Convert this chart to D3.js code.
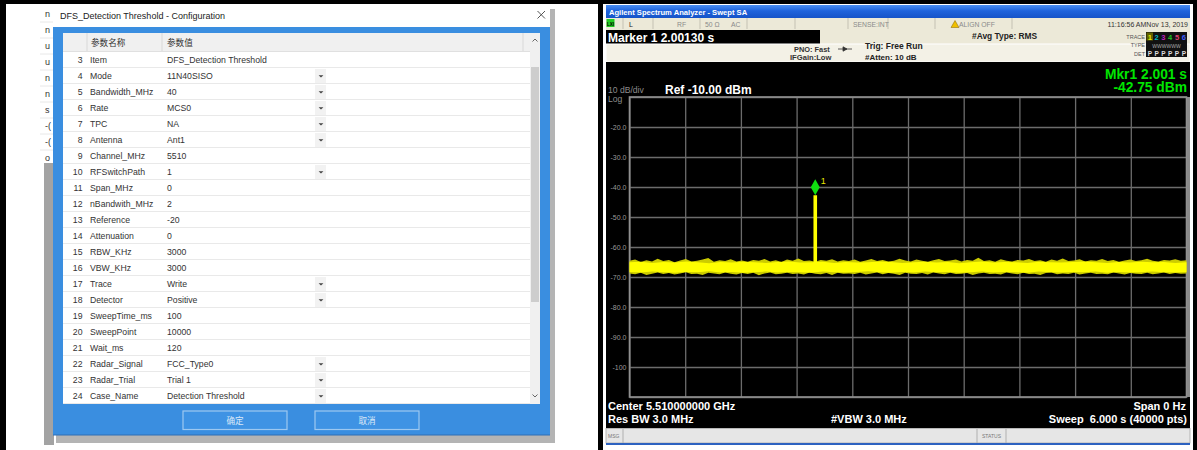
<!DOCTYPE html>
<html><head><meta charset="utf-8">
<script src="https://cdn.jsdelivr.net/npm/d3@7"></script>
<style>
html,body{margin:0;padding:0;background:#fff;}
svg{display:block;}
</style></head><body>
<svg id="c" width="1197" height="450"></svg>
<script>
// ================= DATA =================
const dialogTitle = "DFS_Detection Threshold - Configuration";
const headerLabels = ["参数名称", "参数值"];
const rowNumbers = [3,4,5,6,7,8,9,10,11,12,13,14,15,16,17,18,19,20,21,22,23,24];
const paramNames = ["Item","Mode","Bandwidth_MHz","Rate","TPC","Antenna","Channel_MHz","RFSwitchPath",
  "Span_MHz","nBandwith_MHz","Reference","Attenuation","RBW_KHz","VBW_KHz","Trace","Detector",
  "SweepTime_ms","SweepPoint","Wait_ms","Radar_Signal","Radar_Trial","Case_Name"];
const paramValues = ["DFS_Detection Threshold","11N40SISO","40","MCS0","NA","Ant1","5510","1",
  "0","2","-20","0","3000","3000","Write","Positive","100","10000","120","FCC_Type0","Trial 1","Detection Threshold"];
const hasDropdown = [false,true,true,true,true,true,false,true,false,false,false,false,false,false,true,true,false,false,false,true,true,true];
const buttonLabels = ["确定", "取消"];
const bgWindowLetters = ["n","n","u","u","n","n","s","-(","-(","o"];

// spectrum analyzer
const yTicks = [-10,-20,-30,-40,-50,-60,-70,-80,-90,-100,-110];
const yTickLabels = ["","-20.0","-30.0","-40.0","-50.0","-60.0","-70.0","-80.0","-90.0","-100",""];
const xTicks = [0,0.6,1.2,1.8,2.4,3.0,3.6,4.2,4.8,5.4,6.0];
const markerTime = 2.001;     // s
const markerLevel = -42.75;   // dBm
// noise floor envelope (dBm) read across the 6 s sweep
const noisePeakHi = [-64.6,-64.2,-65.0,-64.4,-64.8,-63.9,-64.7,-64.3,-65.1,-64.5,
 -64.0,-64.8,-64.6,-64.2,-63.7,-64.9,-64.4,-64.7,-64.1,-64.8,
 -64.5,-64.9,-64.3,-64.6,-64.0,-64.8,-64.4,-65.0,-64.2,-64.6,
 -63.8,-64.7,-64.5,-64.9,-64.3,-64.6,-64.1,-64.8,-64.4,-64.7,
 -64.2,-64.9,-64.5,-64.0,-64.7,-64.3,-64.8,-64.6,-63.9,-64.5,
 -64.8,-64.2,-64.6,-64.9,-64.4,-64.0,-64.7,-64.5,-64.2,-64.8,
 -64.3,-64.6,-63.6,-64.7,-64.4,-64.9,-64.1,-64.6,-64.8,-64.3,
 -64.5,-64.0,-64.7,-64.4,-64.9,-64.2,-64.6,-63.8,-64.7,-64.5,
 -64.1,-64.8,-64.4,-64.6,-64.0,-64.7,-64.3,-64.9,-64.5,-64.2,
 -64.7,-64.4,-63.9,-64.6,-64.8,-64.3,-64.5,-64.1,-64.6,-64.4];
const noisePeakLo = [-68.8,-69.1,-68.6,-69.3,-68.9,-68.5,-69.0,-68.7,-69.2,-68.8,
 -68.4,-69.0,-68.9,-69.3,-68.6,-68.8,-69.1,-68.5,-68.9,-69.2,
 -68.7,-69.0,-68.6,-69.4,-68.8,-68.5,-69.1,-68.9,-68.6,-69.0,
 -68.8,-69.2,-68.5,-68.9,-69.1,-68.7,-69.3,-68.6,-68.9,-68.8,
 -69.0,-68.6,-69.2,-68.8,-68.5,-69.1,-68.7,-68.9,-69.3,-68.6,
 -68.9,-69.0,-68.7,-69.2,-68.5,-68.8,-69.1,-68.6,-69.0,-68.9,
 -68.7,-69.3,-68.8,-68.6,-69.0,-68.9,-69.2,-68.5,-68.8,-69.1,
 -68.6,-69.0,-68.9,-69.3,-68.7,-68.5,-69.1,-68.8,-69.0,-68.6,
 -69.2,-68.8,-68.6,-69.0,-68.9,-69.1,-68.5,-68.8,-69.2,-68.7,
 -68.9,-69.0,-68.6,-69.1,-68.8,-68.5,-69.0,-68.7,-68.9,-68.8];
const noiseHi = [-65.1,-64.9,-65.3,-65.0,-65.2,-64.8,-65.1,-65.4,-65.0,-65.2,
 -64.9,-65.1,-65.3,-65.0,-64.8,-65.2,-65.1,-64.9,-65.3,-65.0,
 -65.2,-65.1,-64.8,-65.0,-65.3,-65.1,-64.9,-65.2,-65.0,-65.4,
 -65.1,-64.8,-65.2,-65.0,-65.1,-65.3,-64.9,-65.1,-65.2,-65.0,
 -64.8,-65.1,-65.3,-65.0,-65.2,-64.9,-65.1,-65.0,-65.3,-65.1];
const noiseLo = [-68.3,-68.5,-68.2,-68.4,-68.6,-68.3,-68.4,-68.1,-68.5,-68.3,
 -68.6,-68.4,-68.2,-68.5,-68.3,-68.4,-68.6,-68.2,-68.4,-68.5,
 -68.3,-68.1,-68.4,-68.6,-68.3,-68.5,-68.2,-68.4,-68.3,-68.6,
 -68.4,-68.2,-68.5,-68.3,-68.4,-68.6,-68.2,-68.4,-68.5,-68.3,
 -68.4,-68.2,-68.6,-68.3,-68.5,-68.4,-68.2,-68.4,-68.5,-68.3];

// ================= DRAW =================
const svg = d3.select("#c");
const SANS = "'Liberation Sans', Arial, 'Noto Sans CJK SC', sans-serif";
function txt(g, x, y, s, o = {}) {
  return g.append("text").attr("x", x).attr("y", y).text(s)
    .attr("font-family", o.ff || SANS).attr("font-size", o.fs || 9)
    .attr("font-weight", o.fw || "normal").attr("fill", o.fill || "#000")
    .attr("text-anchor", o.anchor || "start");
}
function rect(g, x, y, w, h, fill, o = {}) {
  const r = g.append("rect").attr("x", x).attr("y", y).attr("width", w).attr("height", h).attr("fill", fill);
  if (o.stroke) r.attr("stroke", o.stroke).attr("stroke-width", o.sw || 1);
  return r;
}

const defs = svg.append("defs");
defs.append("clipPath").attr("id", "bgclip").append("rect").attr("x", 40).attr("y", 5).attr("width", 13).attr("height", 160);
const tg = defs.append("linearGradient").attr("id", "xpblue").attr("x1", 0).attr("y1", 0).attr("x2", 0).attr("y2", 1);
tg.append("stop").attr("offset", "0%").attr("stop-color", "#4a8ef2");
tg.append("stop").attr("offset", "45%").attr("stop-color", "#1f63dc");
tg.append("stop").attr("offset", "100%").attr("stop-color", "#1553c8");

// ---------- LEFT: configuration dialog ----------
const L = svg.append("g");
const bgw = L.append("g").attr("clip-path", "url(#bgclip)");
bgWindowLetters.forEach((s, i) => {
  txt(bgw, 45, 17 + i * 16, s, { fs: 9, fill: "#333" });
  bgw.append("line").attr("x1", 40).attr("x2", 53).attr("y1", 22 + i * 16).attr("y2", 22 + i * 16).attr("stroke", "#e8e8e8");
});
rect(L, 44, 163, 10, 282, "#a3a3a3");
rect(L, 56, 9, 499, 434, "#b4b4b4");
rect(L, 53, 5, 497, 22, "#ffffff");
txt(L, 60, 19, dialogTitle, { fs: 9, fill: "#222" });
L.append("path").attr("d", "M537.5,11 L545,18.5 M545,11 L537.5,18.5").attr("stroke", "#555").attr("stroke-width", 1);
rect(L, 53, 27, 497, 408, "#3a8ee0");
L.append("line").attr("x1", 53).attr("x2", 550).attr("y1", 435).attr("y2", 435).attr("stroke", "#2f6fb5");
const tblX0 = 63, tblX1 = 530, rowsTop = 52;
const rowY = d3.scaleBand().domain(rowNumbers).range([rowsTop, rowsTop + rowNumbers.length * 16]);
rect(L, tblX0, 33, 477, 371, "#ffffff");
rect(L, tblX0, 33, tblX1 - tblX0, 19, "#f0f0f0");
[87, 162, 523].forEach(cx => L.append("line").attr("x1", cx).attr("x2", cx).attr("y1", 33).attr("y2", 51).attr("stroke", "#d8d8d8"));
L.append("line").attr("x1", tblX0).attr("x2", tblX1).attr("y1", 51.5).attr("y2", 51.5).attr("stroke", "#e0e0e0");
txt(L, 91, 46, headerLabels[0], { fs: 8.6, fill: "#333" });
txt(L, 167, 46, headerLabels[1], { fs: 8.6, fill: "#333" });

const rows = L.selectAll("g.row").data(rowNumbers).join("g").attr("class", "row")
  .attr("transform", d => `translate(0,${rowY(d)})`);
rows.each(function (d, i) {
  const g = d3.select(this);
  const h = rowY.bandwidth();
  if (hasDropdown[i]) {
    rect(g, 315, 1, 11, h - 2, "#f2f2f2");
    g.append("path").attr("d", `M318.6,${h / 2 - 0.8} L323.4,${h / 2 - 0.8} L321,${h / 2 + 1.6} Z`).attr("fill", "#444");
  }
  g.append("line").attr("x1", tblX0).attr("x2", tblX1).attr("y1", h - 0.5).attr("y2", h - 0.5).attr("stroke", "#e9e9e9");
  txt(g, 82.5, h / 2 + 3.2, d, { fs: 8.7, fill: "#333", anchor: "end" });
  txt(g, 90, h / 2 + 3.2, paramNames[i], { fs: 8.7, fill: "#333" });
  txt(g, 167, h / 2 + 3.2, paramValues[i], { fs: 8.7, fill: "#333" });
});
rect(L, 530, 33, 10, 371, "#f0f0f0");
rect(L, 531, 67, 8, 235, "#cdcdcd");
L.append("path").attr("d", "M532.5,41.5 L535,39 L537.5,41.5").attr("fill", "none").attr("stroke", "#666");
L.append("path").attr("d", "M532.5,394.5 L535,397 L537.5,394.5").attr("fill", "none").attr("stroke", "#666");
[[183, buttonLabels[0]], [315, buttonLabels[1]]].forEach(([bx, lab]) => {
  rect(L, bx, 411, 104, 18.5, "#3f93e4", { stroke: "#9dc8f1", sw: 1.2 });
  txt(L, bx + 52, 423.5, lab, { fs: 8.6, fill: "#dbe9f8", anchor: "middle" });
});

// ---------- FRAME lines ----------
rect(svg, 0, 0, 1197, 4, "#000");
rect(svg, 0, 0, 6, 450, "#000");
rect(svg, 598, 0, 5, 450, "#000");
rect(svg, 1193, 0, 4, 450, "#000");

// ---------- RIGHT: spectrum analyzer ----------
const R = svg.append("g");
const AX0 = 606, AX1 = 1190;
rect(R, AX0, 5, AX1 - AX0, 13, "url(#xpblue)");
txt(R, 609, 14.5, "Agilent Spectrum Analyzer - Swept SA", { fs: 7.6, fw: "bold", fill: "#fff" });
rect(R, AX0, 18, AX1 - AX0, 11, "#ece9d8");
[623, 653, 700, 747, 795, 848, 888, 935, 1012].forEach(sx =>
  R.append("line").attr("x1", sx).attr("x2", sx).attr("y1", 18).attr("y2", 29).attr("stroke", "#c4c1b3"));
rect(R, 606.5, 19, 8, 8, "#22cc22");
txt(R, 610.5, 25.5, "LXI", { fs: 4.5, fw: "bold", fill: "#000", anchor: "middle" });
const stc = { fs: 6.8, fill: "#8a8a8a" };
txt(R, 629, 26.5, "L", { fs: 7, fill: "#222" });
txt(R, 677, 26.5, "RF", stc);
txt(R, 705, 26.5, "50 Ω", stc);
txt(R, 731, 26.5, "AC", stc);
txt(R, 853, 26.5, "SENSE:INT", stc);
R.append("path").attr("d", "M955,20.5 L959,27.5 L951,27.5 Z").attr("fill", "#f0c000").attr("stroke", "#806000").attr("stroke-width", 0.5);
txt(R, 959, 26.5, "ALIGN OFF", stc);
txt(R, 1188, 26.5, "11:16:56 AMNov 13, 2019", { fs: 7, fill: "#333", anchor: "end" });
rect(R, AX0, 29, AX1 - AX0, 15, "#ece9d8");
rect(R, AX0, 30, 214, 14, "#000");
txt(R, 608, 42, "Marker 1 2.00130 s", { fs: 12, fw: "bold", fill: "#fff" });
rect(R, AX0, 44, AX1 - AX0, 18, "#f3f1e6", { stroke: "#ffffff", sw: 1 });
txt(R, 972, 39, "#Avg Type: RMS", { fs: 8.4, fw: "bold", fill: "#222" });
txt(R, 794, 52, "PNO: Fast", { fs: 7.4, fw: "bold", fill: "#333" });
txt(R, 790, 60, "IFGain:Low", { fs: 7.6, fw: "bold", fill: "#333" });
R.append("path").attr("d", "M838,49 L852,49 M843,46.8 L847,49 L843,51.2 Z").attr("stroke", "#333").attr("fill", "#333").attr("stroke-width", 0.8);
txt(R, 865, 49, "Trig: Free Run", { fs: 8.5, fw: "bold", fill: "#222" });
txt(R, 865, 59.5, "#Atten: 10 dB", { fs: 8, fw: "bold", fill: "#222" });
const trG = R.append("g");
txt(trG, 1145, 38.5, "TRACE", { fs: 5.5, fill: "#555", anchor: "end" });
txt(trG, 1145, 47, "TYPE", { fs: 5.5, fill: "#555", anchor: "end" });
txt(trG, 1145, 55.5, "DET", { fs: 5.5, fill: "#555", anchor: "end" });
rect(trG, 1146, 32, 41, 25, "#111");
const traceColors = ["#e8e800", "#00b8c8", "#c020c0", "#20c020", "#e04070", "#4060ff"];
rect(trG, 1146.5, 32.5, 6.5, 8, "#606000");
traceColors.forEach((c, i) => {
  txt(trG, 1149.8 + i * 6.8, 39.5, String(i + 1), { fs: 7.5, fw: "bold", fill: c, anchor: "middle" });
  txt(trG, 1149.8 + i * 6.8, 55.5, "P", { fs: 6.5, fw: "bold", fill: "#ddd", anchor: "middle" });
});
txt(trG, 1166.5, 47.5, "WWWWWW", { fs: 5, fill: "#aaa", anchor: "middle" });

rect(R, AX0, 62, AX1 - AX0, 366, "#000");
txt(R, 1187, 78.5, "Mkr1 2.001 s", { fs: 13.8, fw: "bold", fill: "#00e600", anchor: "end" });
txt(R, 1187, 92, "-42.75 dBm", { fs: 13.8, fw: "bold", fill: "#00e600", anchor: "end" });
txt(R, 608, 92.5, "10 dB/div", { fs: 8.6, fill: "#8c8c8c" });
txt(R, 608, 101.5, "Log", { fs: 8.6, fill: "#8c8c8c" });
txt(R, 665, 94, "Ref -10.00 dBm", { fs: 12, fw: "bold", fill: "#fff" });

const x = d3.scaleLinear().domain([0, 6]).range([629.5, 1186.5]);
const y = d3.scaleLinear().domain([-10, -110]).range([97, 397]);
const gx = R.append("g").attr("transform", `translate(0,${y(-110)})`)
  .call(d3.axisBottom(x).tickValues(xTicks).tickSize(-(y(-110) - y(-10))).tickFormat(""));
gx.select(".domain").remove();
gx.selectAll("line").attr("stroke", "#6c6c6c").attr("stroke-width", 1.3);
const gy = R.append("g").attr("transform", `translate(${x(0)},0)`)
  .call(d3.axisLeft(y).tickValues(yTicks).tickSize(-(x(6) - x(0))).tickPadding(3)
    .tickFormat((d, i) => yTickLabels[i]));
gy.select(".domain").remove();
gy.selectAll("line").attr("stroke", "#6c6c6c").attr("stroke-width", 1.3);
gy.selectAll("text").attr("fill", "#9a9a9a").attr("font-size", 7).attr("font-family", SANS);
rect(R, x(0), y(-10), x(6) - x(0), y(-110) - y(-10), "none", { stroke: "#909090", sw: 1.6 });
rect(R, 1187, y(-10), 3, y(-110) - y(-10), "#8a8a8a");

const outer = noisePeakHi.map((hi, i) => ({ t: i * 6 / (noisePeakHi.length - 1), hi, lo: noisePeakLo[i] }));
const inner = noiseHi.map((hi, i) => ({ t: i * 6 / (noiseHi.length - 1), hi, lo: noiseLo[i] }));
const area = d3.area().x(d => x(d.t)).y0(d => y(d.lo)).y1(d => y(d.hi));
R.append("path").datum(outer).attr("d", area).attr("fill", "#cccc00");
R.append("path").datum(inner).attr("d", area).attr("fill", "#ffff00");
R.append("rect").attr("x", x(markerTime) - 1.8).attr("width", 3.6)
  .attr("y", y(markerLevel)).attr("height", y(-65.5) - y(markerLevel)).attr("fill", "#ffff00");
const mx = x(markerTime), my = y(markerLevel);
R.append("path").attr("d", `M${mx},${my - 16} L${mx + 4.5},${my - 8} L${mx},${my} L${mx - 4.5},${my - 8} Z`).attr("fill", "#10e010");
txt(R, mx + 5.5, my - 11, "1", { fs: 9, fill: "#e8e800" });

const bo = { fs: 11, fw: "bold", fill: "#fff" };
txt(R, 608, 410, "Center 5.510000000 GHz", bo);
txt(R, 608, 423, "Res BW 3.0 MHz", bo);
txt(R, 831, 423, "#VBW 3.0 MHz", bo);
txt(R, 1186, 410, "Span 0 Hz", { ...bo, anchor: "end" });
txt(R, 1187, 423, "Sweep  6.000 s (40000 pts)", { ...bo, anchor: "end" }).attr("xml:space", "preserve").style("white-space", "pre");
rect(R, AX0, 428.5, AX1 - AX0, 14.5, "#e6e6e6", { stroke: "#a8a8a8", sw: 0.8 });
[623, 977, 1006].forEach(sx => R.append("line").attr("x1", sx).attr("x2", sx).attr("y1", 429).attr("y2", 443).attr("stroke", "#b0b0b0"));
txt(R, 608, 438, "MSG", { fs: 5, fill: "#777" });
txt(R, 991.5, 438, "STATUS", { fs: 5, fill: "#777", anchor: "middle" });
rect(R, AX0, 443, AX1 - AX0, 2, "#2d62c0");
</script>
</body></html>
